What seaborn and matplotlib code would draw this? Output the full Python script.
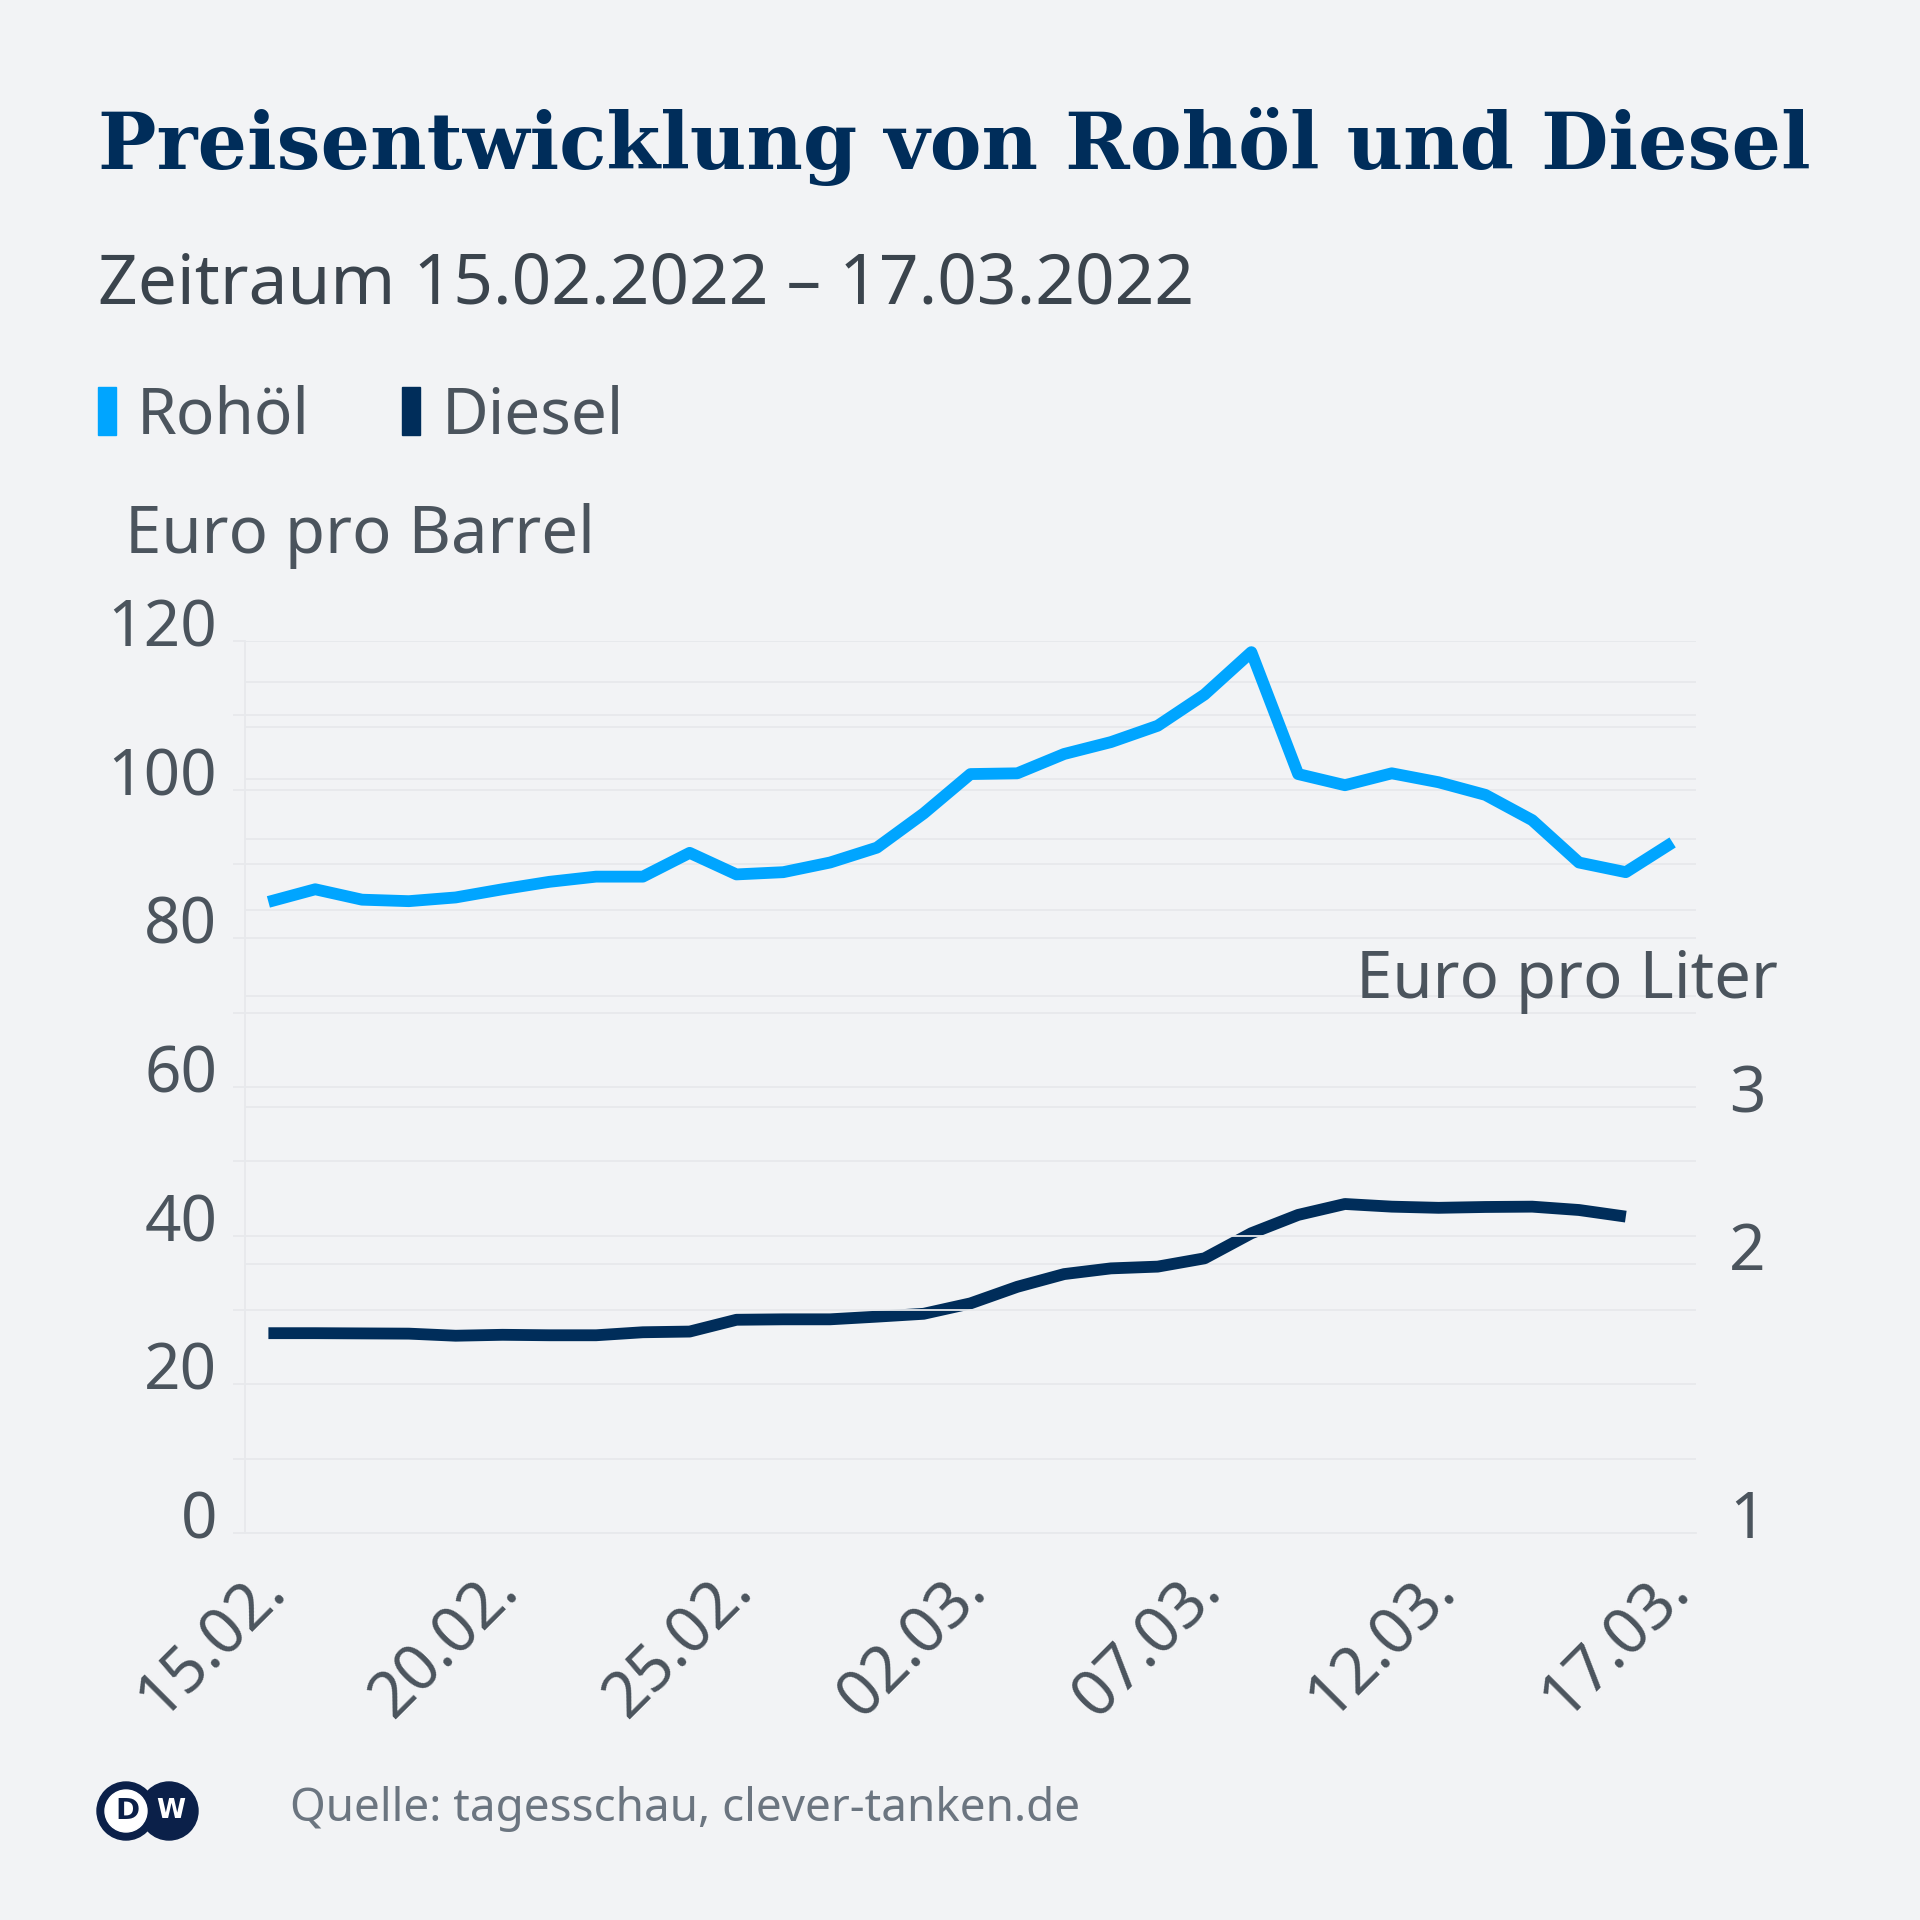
import pandas as pd
import matplotlib
matplotlib.use('Agg')
import matplotlib.pyplot as plt
import matplotlib.dates as mdates
from matplotlib.patches import Patch, Circle
from matplotlib.ticker import NullLocator
from matplotlib.transforms import ScaledTranslation
import seaborn as sns

# ── Data ─────────────────────────────────────────────────────────────────────
dates = ['2022-02-15', '2022-02-16', '2022-02-17', '2022-02-18', '2022-02-19',
         '2022-02-20', '2022-02-21', '2022-02-22', '2022-02-23', '2022-02-24',
         '2022-02-25', '2022-02-26', '2022-02-27', '2022-02-28', '2022-03-01',
         '2022-03-02', '2022-03-03', '2022-03-04', '2022-03-05', '2022-03-06',
         '2022-03-07', '2022-03-08', '2022-03-09', '2022-03-10', '2022-03-11',
         '2022-03-12', '2022-03-13', '2022-03-14', '2022-03-15', '2022-03-16',
         '2022-03-17']

# Rohöl, Euro pro Barrel (15.02. - 17.03.)
crude = [84.9, 86.6, 85.2, 85.0, 85.5, 86.6, 87.6, 88.3, 88.3, 91.5,
         88.6, 88.9, 90.2, 92.2, 96.8, 102.1, 102.2, 104.8, 106.4, 108.6,
         112.8, 118.5, 102.1, 100.6, 102.2, 101.0, 99.3, 95.9, 90.2, 88.9,
         92.9]

# Diesel, Euro pro Liter (15.02. - 16.03.)
diesel = [1.675, 1.675, 1.674, 1.673, 1.664, 1.668, 1.666, 1.666, 1.679, 1.682,
          1.734, 1.736, 1.736, 1.748, 1.761, 1.809, 1.888, 1.951, 1.980, 1.989,
          2.032, 2.168, 2.273, 2.338, 2.322, 2.315, 2.320, 2.322, 2.302, 2.263]

left_grid = [0, 10, 20, 30, 40, 50, 60, 70, 80, 90, 100, 110, 120]
left_labels = ['0', '', '20', '', '40', '', '60', '', '80', '', '100', '', '120']
right_grid = [1, 2, 3, 4, 5, 6, 7, 8, 9, 10]
right_labels = ['1', '2', '3', '', '', '', '', '', '', '']

# ── Style ────────────────────────────────────────────────────────────────────
BG = '#f2f3f5'
GRID = '#e7e9ec'
TXT = '#4b545d'
NAVY = '#002d5a'
BLUE = '#00a5ff'
LOGO = '#0b2049'

sns.set_theme(style='white', rc={'figure.facecolor': BG, 'axes.facecolor': BG,
                                 'savefig.facecolor': BG})
plt.rcParams['font.family'] = ['Noto Sans', 'DejaVu Sans']

W = 1920.0
x_all = pd.to_datetime(dates)
x_diesel = x_all[:len(diesel)]

fig = plt.figure(figsize=(19.2, 19.2), dpi=100)
ax = fig.add_axes([245 / W, 1 - 1533 / W, (1696 - 245) / W, (1533 - 641) / W])
ax2 = ax.twinx()
# left axis (crude + its grid) drawn above the diesel axis
ax.set_zorder(ax2.get_zorder() + 1)
ax.patch.set_visible(False)

# ── Rohöl (left axis) ────────────────────────────────────────────────────────
sns.lineplot(x=x_all, y=crude, ax=ax, color=BLUE, linewidth=8.5,
             solid_capstyle='butt', solid_joinstyle='round', zorder=3)
ax.set_ylim(0, 120)
ax.set_yticks(left_grid)
ax.set_yticklabels(left_labels)
ax.grid(axis='y', color=GRID, linewidth=1.3)
ax.set_axisbelow(True)
ax.set_xlabel('')
ax.set_ylabel('')

# ── Diesel (right axis, log) ─────────────────────────────────────────────────
ax2.set_yscale('log')
ax2.set_ylim(1, 10)
sns.lineplot(x=x_diesel, y=diesel, ax=ax2, color=NAVY, linewidth=8.5,
             solid_capstyle='butt', solid_joinstyle='round', zorder=3)
ax2.set_yticks(right_grid)
ax2.set_yticklabels(right_labels)
ax2.yaxis.set_minor_locator(NullLocator())
ax2.grid(axis='y', color=GRID, linewidth=1.3)
ax2.set_axisbelow(True)
ax2.set_ylabel('')
ax2.set_xlabel('')

# ── X axis ───────────────────────────────────────────────────────────────────
ax.set_xlim(x_all[0] - pd.Timedelta(hours=12), x_all[-1] + pd.Timedelta(hours=12))
ax.set_xticks(x_all[::5])
ax.set_xticks(x_all, minor=True)
ax.xaxis.set_major_formatter(mdates.DateFormatter('%d.%m.'))
ax.tick_params(axis='x', which='both', length=9, width=1.3, color=GRID,
               labelsize=46, labelcolor=TXT, pad=25)
plt.setp(ax.get_xticklabels(), rotation=45, ha='right', va='center',
         rotation_mode='anchor')

ax.tick_params(axis='y', length=9, width=1.3, color=GRID, labelsize=46,
               labelcolor=TXT, pad=11)
ax2.tick_params(axis='y', length=0, labelsize=46, labelcolor=TXT, pad=24)

for s in ['top', 'right']:
    ax.spines[s].set_visible(False)
for s in ['left', 'bottom']:
    ax.spines[s].set_color(GRID)
    ax.spines[s].set_linewidth(1.3)
for s in ax2.spines.values():
    s.set_visible(False)

# labels sit slightly above their grid lines
up = ScaledTranslation(0, 0.19, fig.dpi_scale_trans)
for lab in ax.get_yticklabels() + ax2.get_yticklabels():
    lab.set_transform(lab.get_transform() + up)
right = ScaledTranslation(0.07, 0, fig.dpi_scale_trans)
for lab in ax.get_xticklabels():
    lab.set_transform(lab.get_transform() + right)

# ── Texts ────────────────────────────────────────────────────────────────────
fig.text(98 / W, 1 - 169 / W, 'Preisentwicklung von Rohöl und Diesel',
         family='DejaVu Serif', weight='bold', size=56, color=NAVY,
         va='baseline')
fig.text(98 / W, 1 - 304 / W, 'Zeitraum 15.02.2022 – 17.03.2022',
         size=50, color='#3b444d', va='baseline')

fig.legend(handles=[Patch(color=BLUE, label='Rohöl'), Patch(color=NAVY, label='Diesel')],
           loc='upper left', bbox_to_anchor=(98 / W, 1 - 384 / W), ncol=2,
           frameon=False, fontsize=46, handlelength=0.28, handleheight=0.78,
           handletextpad=0.33, columnspacing=1.45, borderpad=0, borderaxespad=0,
           labelcolor=TXT)

fig.text(125 / W, 1 - 553 / W, 'Euro pro Barrel', size=47, color=TXT, va='baseline')
fig.text(1778 / W, 1 - 998 / W, 'Euro pro Liter', size=47, color=TXT,
         va='baseline', ha='right')

fig.text(290 / W, 1 - 1809 / W, 'Quelle: tagesschau, clever-tanken.de',
         size=33, color='#6b7580', va='center')

# DW logo
cy = 1 - 1811 / W
fig.add_artist(Circle((169 / W, cy), 29 / W, color=LOGO, transform=fig.transFigure))
fig.add_artist(Circle((126 / W, cy), 29 / W, color=LOGO, transform=fig.transFigure))
fig.add_artist(Circle((126 / W, cy), 21 / W, color='white', transform=fig.transFigure))
fig.text(127 / W, cy, 'D', family='DejaVu Sans', weight='heavy', size=21,
         color=LOGO, ha='center', va='center')
fig.text(171 / W, cy, 'W', family='DejaVu Sans', weight='heavy', size=19,
         color='white', ha='center', va='center')

plt.savefig('out.png', dpi=100, facecolor=BG)
